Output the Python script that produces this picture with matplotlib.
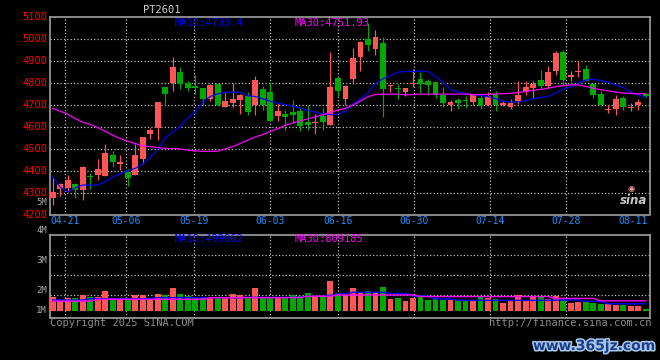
import matplotlib
matplotlib.use("Agg")
import matplotlib.pyplot as plt
from matplotlib.transforms import blended_transform_factory
import matplotlib.patheffects as pe

# ---------------- data ----------------
dates = ["04-17", "04-18", "04-21", "04-22", "04-23", "04-24", "04-25", "04-28", "04-29", "04-30",
         "05-06", "05-07", "05-08", "05-09", "05-12", "05-13", "05-14", "05-15", "05-16", "05-19",
         "05-20", "05-21", "05-22", "05-23", "05-26", "05-27", "05-28", "05-29", "05-30", "06-03",
         "06-04", "06-05", "06-06", "06-09", "06-10", "06-11", "06-12", "06-13", "06-16", "06-17",
         "06-18", "06-19", "06-20", "06-23", "06-24", "06-25", "06-26", "06-27", "06-30", "07-01",
         "07-02", "07-03", "07-04", "07-07", "07-08", "07-09", "07-10", "07-11", "07-14", "07-15",
         "07-16", "07-17", "07-18", "07-21", "07-22", "07-23", "07-24", "07-25", "07-28", "07-29",
         "07-30", "07-31", "08-01", "08-04", "08-05", "08-06", "08-07", "08-08", "08-11", "08-12"]

opens = [4276, 4317, 4321, 4338, 4312, 4376, 4379, 4376, 4474, 4429,
         4396, 4383, 4455, 4570, 4594, 4783, 4802, 4852, 4800, 4788,
         4776, 4726, 4797, 4689, 4708, 4723, 4739, 4699, 4774, 4761,
         4649, 4661, 4667, 4671, 4624, 4617, 4652, 4611, 4824, 4729,
         4821, 4917, 5002, 4958, 4983, 4785, 4779, 4761, 4794, 4820,
         4811, 4806, 4747, 4699, 4724, 4721, 4715, 4733, 4702, 4750,
         4702, 4689, 4720, 4759, 4779, 4815, 4789, 4856, 4942, 4830,
         4850, 4865, 4797, 4752, 4676, 4680, 4732, 4686, 4702, 4752]
highs = [4373, 4346, 4383, 4346, 4421, 4391, 4456, 4520, 4488, 4470,
         4409, 4524, 4552, 4595, 4715, 4783, 4920, 4874, 4812, 4838,
         4776, 4795, 4797, 4759, 4800, 4750, 4758, 4833, 4785, 4805,
         4709, 4679, 4724, 4689, 4702, 4659, 4686, 4944, 4824, 4792,
         4961, 4992, 5073, 5041, 5011, 4792, 4795, 4779, 4865, 4850,
         4820, 4806, 4783, 4723, 4732, 4741, 4750, 4747, 4759, 4765,
         4724, 4727, 4811, 4811, 4812, 4861, 4879, 4947, 4953, 4856,
         4902, 4883, 4797, 4762, 4702, 4747, 4739, 4709, 4727, 4755]
lows = [4244, 4285, 4303, 4274, 4267, 4315, 4358, 4376, 4418, 4402,
        4330, 4383, 4433, 4547, 4542, 4694, 4765, 4774, 4762, 4750,
        4702, 4720, 4695, 4689, 4689, 4661, 4653, 4653, 4676, 4629,
        4629, 4585, 4618, 4580, 4585, 4570, 4588, 4611, 4742, 4702,
        4797, 4856, 4948, 4929, 4644, 4758, 4729, 4739, 4783, 4756,
        4744, 4730, 4692, 4671, 4683, 4685, 4702, 4683, 4696, 4671,
        4694, 4683, 4705, 4747, 4733, 4774, 4780, 4838, 4789, 4808,
        4830, 4808, 4732, 4694, 4662, 4653, 4679, 4674, 4679, 4738]
closes = [4303, 4338, 4358, 4312, 4415, 4373, 4406, 4483, 4442, 4438,
          4367, 4470, 4552, 4588, 4715, 4749, 4874, 4797, 4777, 4776,
          4729, 4792, 4702, 4720, 4726, 4744, 4670, 4815, 4699, 4629,
          4674, 4644, 4653, 4603, 4609, 4623, 4621, 4783, 4765, 4785,
          4915, 4986, 4976, 5009, 4774, 4792, 4771, 4779, 4802, 4797,
          4792, 4747, 4711, 4714, 4711, 4718, 4750, 4697, 4739, 4699,
          4711, 4709, 4747, 4783, 4797, 4785, 4852, 4938, 4815, 4836,
          4856, 4811, 4744, 4699, 4683, 4729, 4689, 4692, 4712, 4739]

ma10 = [4373, 4325, 4303, 4322, 4335, 4335, 4335, 4350, 4371, 4386,
        4399, 4411, 4432, 4462, 4499, 4550, 4577, 4603, 4641, 4668,
        4714, 4739, 4751, 4759, 4759, 4759, 4742, 4739, 4729, 4717,
        4708, 4702, 4694, 4686, 4676, 4667, 4660, 4656, 4658, 4672,
        4705, 4727, 4755, 4797, 4820, 4833, 4850, 4853, 4853, 4856,
        4853, 4830, 4805, 4770, 4759, 4753, 4747, 4744, 4739, 4729,
        4717, 4714, 4714, 4720, 4729, 4735, 4739, 4755, 4774, 4782,
        4800, 4814, 4818, 4812, 4805, 4792, 4780, 4759, 4747, 4735]
ma30 = [4685, 4672, 4658, 4638, 4622, 4612, 4597, 4580, 4562, 4547,
        4535, 4524, 4514, 4510, 4506, 4502, 4501, 4500, 4494, 4490,
        4489, 4489, 4489, 4500, 4511, 4525, 4540, 4555, 4565, 4580,
        4592, 4608, 4618, 4628, 4637, 4646, 4656, 4665, 4677, 4685,
        4700, 4718, 4738, 4748, 4750, 4750, 4750, 4746, 4748, 4750,
        4750, 4750, 4750, 4750, 4750, 4750, 4748, 4748, 4749, 4750,
        4752, 4753, 4757, 4762, 4767, 4771, 4777, 4784, 4788, 4792,
        4792, 4785, 4777, 4770, 4765, 4759, 4755, 4753, 4751, 4752]

# volume in millions
volume = [1.52, 1.40, 1.49, 1.50, 1.59, 1.52, 1.52, 1.76, 1.44, 1.44,
          1.44, 1.60, 1.60, 1.44, 1.65, 1.59, 1.86, 1.64, 1.56, 1.54,
          1.54, 1.54, 1.49, 1.49, 1.64, 1.60, 1.51, 1.86, 1.54, 1.51,
          1.54, 1.51, 1.59, 1.56, 1.67, 1.56, 1.56, 2.12, 1.67, 1.59,
          1.86, 1.72, 1.75, 1.69, 1.90, 1.45, 1.49, 1.37, 1.49, 1.56,
          1.41, 1.50, 1.42, 1.41, 1.41, 1.37, 1.41, 1.54, 1.49, 1.46,
          1.30, 1.36, 1.59, 1.41, 1.51, 1.54, 1.44, 1.56, 1.41, 1.31,
          1.34, 1.34, 1.29, 1.26, 1.26, 1.21, 1.21, 1.19, 1.19, 1.09]
vol_ma10 = [1.41, 1.41, 1.41, 1.41, 1.41, 1.46, 1.46, 1.46, 1.46, 1.46,
            1.46, 1.46, 1.46, 1.46, 1.50, 1.50, 1.50, 1.50, 1.50, 1.50,
            1.50, 1.50, 1.50, 1.50, 1.50, 1.50, 1.51, 1.51, 1.51, 1.51,
            1.51, 1.51, 1.51, 1.51, 1.55, 1.55, 1.55, 1.59, 1.64, 1.64,
            1.70, 1.70, 1.70, 1.70, 1.70, 1.66, 1.66, 1.66, 1.56, 1.56,
            1.56, 1.45, 1.45, 1.45, 1.40, 1.40, 1.40, 1.40, 1.40, 1.40,
            1.40, 1.40, 1.40, 1.40, 1.40, 1.40, 1.40, 1.41, 1.41, 1.41,
            1.41, 1.36, 1.36, 1.36, 1.27, 1.27, 1.27, 1.27, 1.27, 1.27]
vol_ma30 = [1.37, 1.37, 1.37, 1.37, 1.37, 1.37, 1.44, 1.44, 1.44, 1.44,
            1.44, 1.44, 1.44, 1.44, 1.44, 1.44, 1.44, 1.44, 1.44, 1.44,
            1.44, 1.50, 1.50, 1.50, 1.50, 1.50, 1.50, 1.50, 1.50, 1.50,
            1.50, 1.50, 1.50, 1.50, 1.55, 1.55, 1.55, 1.55, 1.60, 1.60,
            1.60, 1.60, 1.60, 1.60, 1.60, 1.60, 1.60, 1.60, 1.60, 1.54,
            1.54, 1.54, 1.54, 1.54, 1.54, 1.54, 1.54, 1.54, 1.54, 1.54,
            1.54, 1.54, 1.54, 1.54, 1.54, 1.54, 1.54, 1.47, 1.47, 1.47,
            1.47, 1.47, 1.47, 1.38, 1.38, 1.38, 1.38, 1.38, 1.38, 1.38]

tick_dates = ["04-21", "05-06", "05-19", "06-03", "06-16", "06-30", "07-14", "07-28", "08-11"]
price_ticks = [5100, 5000, 4900, 4800, 4700, 4600, 4500, 4400, 4300, 4200]
vol_tick_labels = ["5M", "4M", "3M", "2M", "1M"]
title = "PT2601"
ma_price_labels = ["MA10:4733.4", "MA30:4751.93"]
ma_vol_labels = ["MA10:499962", "MA30:809185"]

# ---------------- style ----------------
W, H = 660, 360
RED = "#FF5555"
GREEN = "#00A800"
BLUE = "#0000FF"
MAG = "#FF00FF"
GRID = "#C8C8C8"
BORDER = "#A0A0A0"
FONT = "DejaVu Sans Mono"
PX = 72 / 100  # one pixel in points

fig = plt.figure(figsize=(W / 100, H / 100), dpi=100, facecolor="black")


def rect(x0, y0, x1, y1):
    return [x0 / W, 1 - y1 / H, (x1 - x0) / W, (y1 - y0) / H]


n = len(dates)
xs = list(range(n))
x_left, x_right = -0.36, 79.51

ax_p = fig.add_axes(rect(50, 17.4, 649.5, 214.6))
ax_v = fig.add_axes(rect(50, 235, 649.5, 318.3))
for ax in (ax_p, ax_v):
    ax.set_facecolor("black")
    ax.set_xlim(x_left, x_right)
    ax.set_xticks([])
    ax.set_yticks([])
    for s in ax.spines.values():
        s.set_color(BORDER)
        s.set_linewidth(1.2)

ax_p.set_ylim(4200, 5100)
ax_v.set_ylim(0.727, 3.846)
ax_p.spines["bottom"].set_linestyle((0, (1.5, 1)))

dot = (0, (1, 1.8))
# horizontal grid
for v in price_ticks[1:-1]:
    ax_p.axhline(v, color=GRID, lw=PX * 1.2, ls=dot, zorder=1)
for v in [3.10, 2.35, 1.60]:
    ax_v.axhline(v, color=GRID, lw=PX * 1.2, ls=dot, zorder=1)

# vertical grid at date labels (Sina places them slightly off candle centres)
grid_pos = [dates.index(d) * 1.012 - 0.4 for d in tick_dates]
for gp in grid_pos[:-1]:
    for ax in (ax_p, ax_v):
        ax.axvline(gp, color=GRID, lw=PX * 1.2, ls=dot, zorder=1)

# candles
body_w = 0.78
for i in xs:
    o, h, l, c = opens[i], highs[i], lows[i], closes[i]
    col = RED if c >= o else GREEN
    ax_p.vlines(i, l, h, color=col, lw=PX * 1.2, zorder=3)
    ax_p.bar(i, max(abs(c - o), 4), bottom=min(o, c), width=body_w, color=col,
             edgecolor="none", zorder=4)

ax_p.plot(xs, ma10, color=BLUE, lw=PX * 1.2, zorder=5)
ax_p.plot(xs, ma30, color=MAG, lw=PX * 1.2, zorder=5)

# volume
for i in xs:
    col = RED if closes[i] >= opens[i] else GREEN
    ax_v.bar(i, volume[i] - 1.0, bottom=1.0, width=body_w, color=col,
             edgecolor="none", zorder=3)
ax_v.plot(xs, vol_ma10, color=BLUE, lw=PX * 1.4, zorder=5)
ax_v.plot(xs, vol_ma30, color=MAG, lw=PX * 1.4, zorder=5)

# y labels (price)
tp = blended_transform_factory(fig.transFigure, ax_p.transData)
for v in price_ticks:
    ax_p.text(47 / W, v, str(v), transform=tp, ha="right", va="center",
              color="#FF0000", fontsize=7.5, family=FONT, clip_on=False)

# volume labels (Sina's own uneven layout)
vol_label_y = [202.5, 230.7, 260.7, 290.7, 310.7]
for lab, yy in zip(vol_tick_labels, vol_label_y):
    fig.text(47 / W, 1 - yy / H, lab, ha="right", va="center",
             color="#A8A8A8", fontsize=6.5, family=FONT)

# date labels
td = blended_transform_factory(ax_p.transData, fig.transFigure)
for d, gp in zip(tick_dates, grid_pos):
    if d == tick_dates[-1]:
        fig.text(648 / W, 1 - 221.5 / H, d, ha="right", va="center",
                 color="#1E90FF", fontsize=7, family=FONT)
    else:
        ax_p.text(gp, 1 - 221.5 / H, d, transform=td, ha="center", va="center",
                  color="#1E90FF", fontsize=7, family=FONT, clip_on=False)

# titles / MA labels
fig.text(162 / W, 1 - 10 / H, title, ha="center", va="center", color="#D0D0D0",
         fontsize=7.5, family=FONT)
fig.text(175 / W, 1 - 22.5 / H, ma_price_labels[0], ha="left", va="center",
         color=BLUE, fontsize=7.5, family=FONT)
fig.text(295 / W, 1 - 22.5 / H, ma_price_labels[1], ha="left", va="center",
         color=MAG, fontsize=7.5, family=FONT)
fig.text(175 / W, 1 - 238.5 / H, ma_vol_labels[0], ha="left", va="center",
         color=BLUE, fontsize=7.5, family=FONT)
fig.text(295 / W, 1 - 238.5 / H, ma_vol_labels[1], ha="left", va="center",
         color=MAG, fontsize=7.5, family=FONT)

# footer
fig.text(50 / W, 1 - 323 / H, "Copyright 2025 SINA.COM", ha="left", va="center",
         color="#8C8C8C", fontsize=7.5, family=FONT)
fig.text(651 / W, 1 - 323 / H, "http://finance.sina.com.cn", ha="right", va="center",
         color="#8C8C8C", fontsize=7.5, family=FONT)

# sina logo and watermark
fig.text(634 / W, 1 - 201 / H, "sina", ha="center", va="center", color="#C8C8C8",
         fontsize=8.5, fontweight="bold", style="italic", family="DejaVu Sans")
fig.text(631 / W, 1 - 188 / H, "\u25C9", ha="center", va="center", color="#F4A0A0",
         fontsize=6, family="DejaVu Sans")
fig.text(594 / W, 1 - 346 / H, "www.365jz.com", ha="center", va="center",
         color="#1E3C8C", fontsize=10, fontweight="bold", family="DejaVu Sans",
         path_effects=[pe.withStroke(linewidth=2.2, foreground="#A8C8E8")])

fig.savefig("out.png", dpi=100, facecolor="black")
